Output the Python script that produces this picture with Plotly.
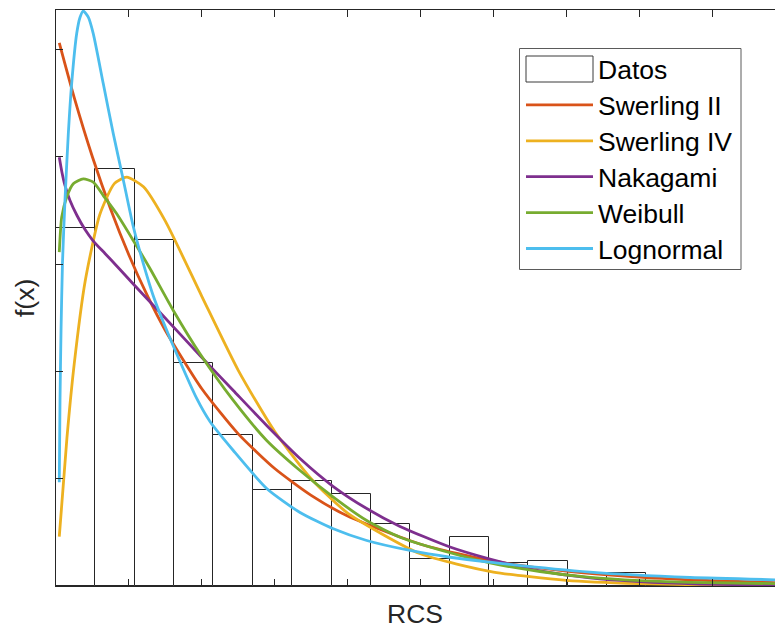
import plotly.graph_objects as go

# Histogram of the measured RCS samples (normalised as a probability density)
rcs_bin_width = 0.54
hist_density = [0.3338, 0.3891, 0.3220, 0.2074, 0.1405, 0.0899, 0.0974, 0.0853,
                0.0576, 0.0250, 0.0459, 0.0210, 0.0231, 0.0033, 0.0119, 0.0040,
                0.0020, 0.0020, 0.0010]

# Fitted probability density functions
swerling2_x = [0.045, 0.25, 0.5, 0.75, 1.0, 1.25, 1.5, 2.0, 2.5, 3.0, 3.5, 4.0,
               5.0, 6.0, 7.0, 8.0, 9.0, 9.9]
swerling2_y = [0.5061, 0.4551, 0.3998, 0.3512, 0.3085, 0.2710, 0.2381, 0.1838,
               0.1418, 0.1095, 0.0845, 0.0652, 0.0389, 0.0231, 0.0138, 0.0082,
               0.0049, 0.0031]

swerling4_x = [0.045, 0.15, 0.25, 0.4, 0.6, 0.8, 0.97, 1.2, 1.5, 2.0, 2.5, 3.0,
               3.5, 4.0, 5.0, 6.0, 7.0, 8.0, 9.0, 9.9]
swerling4_y = [0.046, 0.138, 0.207, 0.284, 0.346, 0.375, 0.381, 0.372, 0.340,
               0.270, 0.201, 0.144, 0.100, 0.068, 0.030, 0.013, 0.0053, 0.0022,
               0.0009, 0.0004]

nakagami_x = [0.045, 0.082, 0.123, 0.192, 0.288, 0.398, 0.512, 0.672, 0.833,
              1.060, 1.427, 1.975, 2.432, 2.890, 3.347, 3.804, 4.262, 4.719,
              5.405, 5.953, 6.639, 7.325, 8.011, 8.834, 9.863]
nakagami_y = [0.3996, 0.3854, 0.3733, 0.3593, 0.3453, 0.3322, 0.3215, 0.3099,
              0.2983, 0.2815, 0.2549, 0.2148, 0.1822, 0.1496, 0.1188, 0.0927,
              0.0722, 0.0555, 0.0363, 0.0251, 0.0140, 0.0075, 0.0040, 0.0018,
              0.0007]

weibull_x = [0.045, 0.078, 0.147, 0.237, 0.374, 0.512, 0.649, 0.833, 1.060,
             1.289, 1.609, 1.975, 2.432, 2.890, 3.347, 3.804, 4.262, 4.719,
             5.405, 5.953, 6.639, 7.325, 8.011, 8.697, 9.863]
weibull_y = [0.3111, 0.3437, 0.3624, 0.3748, 0.3795, 0.3763, 0.3639, 0.3469,
             0.3220, 0.2959, 0.2568, 0.2164, 0.1729, 0.1356, 0.1076, 0.0828,
             0.0610, 0.0455, 0.0310, 0.0215, 0.0135, 0.0080, 0.0050, 0.0033,
             0.0022]

lognormal_x = [0.045, 0.055, 0.069, 0.089, 0.123, 0.169, 0.215, 0.284, 0.329,
               0.374, 0.443, 0.512, 0.649, 0.786, 0.919, 1.060, 1.198, 1.335,
               1.472, 1.609, 1.930, 2.112, 2.432, 2.890, 3.347, 3.804, 4.262,
               4.856, 5.405, 5.953, 7.325, 8.697, 9.863]
lognormal_y = [0.0967, 0.1729, 0.2381, 0.3015, 0.3593, 0.4217, 0.4683, 0.5149,
               0.5298, 0.5359, 0.5301, 0.5146, 0.4680, 0.4214, 0.3798, 0.3350,
               0.3005, 0.2703, 0.2460, 0.2237, 0.1748, 0.1533, 0.1263, 0.0909,
               0.0685, 0.0533, 0.0424, 0.0331, 0.0268, 0.0222, 0.0129, 0.0079,
               0.0058]

series_names = ["Swerling II", "Swerling IV", "Nakagami", "Weibull", "Lognormal"]
series_colors = ["#D95319", "#EDB120", "#7E2F8E", "#77AC30", "#4DBEEE"]
series_data = [(swerling2_x, swerling2_y), (swerling4_x, swerling4_y),
               (nakagami_x, nakagami_y), (weibull_x, weibull_y),
               (lognormal_x, lognormal_y)]

AXIS_COLOR = "#262626"
FONT = "Arial, Liberation Sans, sans-serif"
FONT_SIZE = 26.5

# Figure geometry (pixels)
W, H = 775, 630
ML, MR, MT, MB = 56, 0, 10, 44
PW, PH = W - ML - MR, H - MT - MB

fig = go.Figure()

bin_centers = [(i + 0.5) * rcs_bin_width for i in range(len(hist_density))]
fig.add_trace(go.Bar(
    x=bin_centers, y=hist_density, width=rcs_bin_width, name="Datos",
    marker=dict(color="white", line=dict(color="#262626", width=1)),
    showlegend=False,
))

for name, color, (xs, ys) in zip(series_names, series_colors, series_data):
    fig.add_trace(go.Scatter(
        x=xs, y=ys, mode="lines", name=name, showlegend=False,
        line=dict(color=color, width=2.8, shape="spline", smoothing=0.6),
    ))


def paper_x(px):
    return (px - ML) / PW


def paper_y(py):
    return (H - MB - py) / PH


# Legend box drawn in paper coordinates
shapes = [dict(type="rect", xref="paper", yref="paper",
               x0=paper_x(519.5), x1=paper_x(741), y0=paper_y(269.5), y1=paper_y(48.5),
               line=dict(color="#5a5a5a", width=1), fillcolor="white", layer="above")]
annotations = []
row_step = 35.9
first_row = 69
sym_x0, sym_x1, text_x = 526, 593, 596

legend_labels = ["Datos"] + series_names
for i, label in enumerate(legend_labels):
    cy = first_row + i * row_step
    if i == 0:
        shapes.append(dict(type="rect", xref="paper", yref="paper",
                           x0=paper_x(sym_x0), x1=paper_x(sym_x1),
                           y0=paper_y(cy + 13), y1=paper_y(cy - 13),
                           line=dict(color="#3a3a3a", width=1), fillcolor="white",
                           layer="above"))
    else:
        shapes.append(dict(type="line", xref="paper", yref="paper",
                           x0=paper_x(sym_x0), x1=paper_x(sym_x1),
                           y0=paper_y(cy), y1=paper_y(cy),
                           line=dict(color=series_colors[i - 1], width=2.8),
                           layer="above"))
    annotations.append(dict(text=label, xref="paper", yref="paper",
                            x=paper_x(text_x), y=paper_y(cy + 1),
                            xanchor="left", yanchor="middle", showarrow=False,
                            font=dict(family=FONT, size=FONT_SIZE, color="black")))

# Axis labels
annotations.append(dict(text="RCS", xref="paper", yref="paper",
                        x=paper_x(415), y=paper_y(614), xanchor="center",
                        yanchor="middle", showarrow=False,
                        font=dict(family=FONT, size=FONT_SIZE, color=AXIS_COLOR)))
annotations.append(dict(text="f(x)", xref="paper", yref="paper",
                        x=paper_x(25), y=paper_y(298), xanchor="center",
                        yanchor="middle", textangle=-90, showarrow=False,
                        font=dict(family=FONT, size=FONT_SIZE, color=AXIS_COLOR)))

x_unit_px = 72.9
y_unit_px = 1073.0

axis_common = dict(showline=True, linecolor=AXIS_COLOR, linewidth=1.4,
                   ticks="inside", ticklen=7, tickwidth=1.3, tickcolor=AXIS_COLOR,
                   showticklabels=False, showgrid=False, zeroline=False)

fig.update_layout(
    width=W, height=H,
    margin=dict(l=ML, r=MR, t=MT, b=MB, pad=0),
    paper_bgcolor="white", plot_bgcolor="white",
    bargap=0, showlegend=False,
    shapes=shapes, annotations=annotations,
    xaxis=dict(range=[0, PW / x_unit_px], tick0=0, dtick=1, mirror="ticks",
               **axis_common),
    yaxis=dict(range=[0, PH / y_unit_px], tick0=0, dtick=0.1, mirror=False,
               **axis_common),
)

fig.write_html("out.html")
